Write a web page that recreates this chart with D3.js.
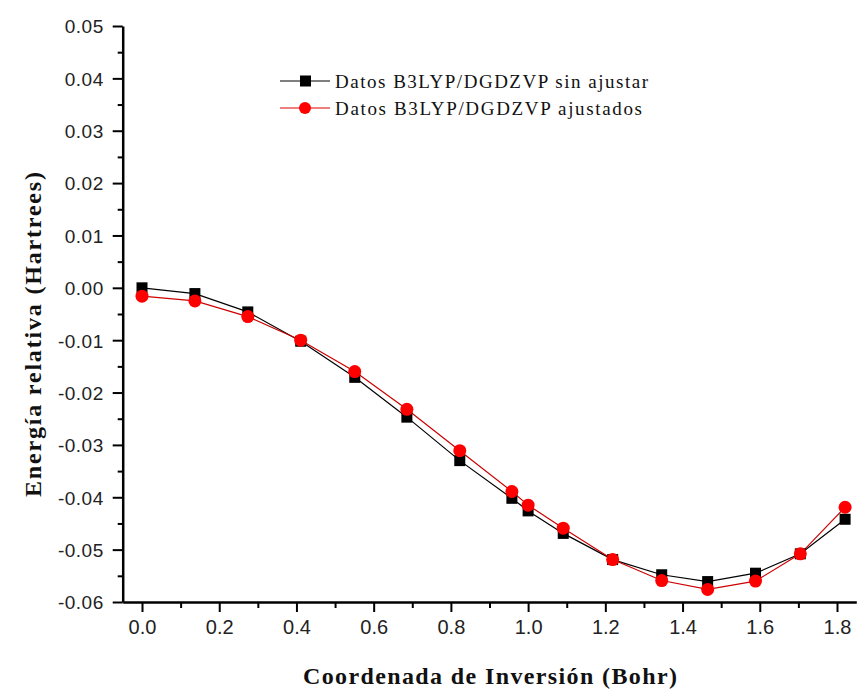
<!DOCTYPE html>
<html>
<head>
<meta charset="utf-8">
<script src="https://cdn.jsdelivr.net/npm/d3@7"></script>
<style>
  body { margin: 0; background: #fff; }
  svg { display: block; }
</style>
</head>
<body>
<div id="chart"></div>
<script>
var coord = [0, 0.137, 0.274, 0.411, 0.551, 0.686, 0.823, 0.958, 1.0, 1.091, 1.219, 1.346, 1.465, 1.589, 1.705, 1.821];
var sinAjustar = [0.0000, -0.0011, -0.0046, -0.0102, -0.0171, -0.0247, -0.0330, -0.0402, -0.0426, -0.0469, -0.0519, -0.0548, -0.0561, -0.0545, -0.0508, -0.0442];
var ajustados = [-0.0016, -0.0025, -0.0055, -0.0100, -0.0160, -0.0232, -0.0311, -0.0389, -0.0415, -0.0459, -0.0519, -0.0559, -0.0576, -0.0560, -0.0508, -0.0419];
var xTicks = [0, 0.2, 0.4, 0.6, 0.8, 1.0, 1.2, 1.4, 1.6, 1.8];
var yTicks = [0.05, 0.04, 0.03, 0.02, 0.01, 0, -0.01, -0.02, -0.03, -0.04, -0.05, -0.06];
var series = ["Datos B3LYP/DGDZVP sin ajustar", "Datos B3LYP/DGDZVP ajustados"];

var w = 857, h = 690;
var svg = d3.select("#chart").append("svg")
  .attr("width", w)
  .attr("height", h);

var x = d3.scaleLinear().domain([-0.05, 1.85]).range([122.7, 856.3]);
var y = d3.scaleLinear().domain([-0.06, 0.05]).range([602, 26]);

// plain hyphen like the original, not the unicode minus
var fmtY = function(d) { return d3.format(".2f")(d).replace("\u2212", "-"); };

// minor ticks
var xMinor = d3.range(-0.0, 1.85, 0.1).filter(function(d) { return Math.round(d * 10) % 2 == 1; });
var yMinor = d3.range(-0.055, 0.05, 0.01);

svg.append("g")
  .attr("transform", "translate(0,602)")
  .call(d3.axisBottom(x).tickValues(xMinor).tickSize(6).tickSizeOuter(0).tickFormat(""))
  .call(function(g) { g.select(".domain").remove(); });

svg.append("g")
  .attr("transform", "translate(122.7,0)")
  .call(d3.axisLeft(y).tickValues(yMinor).tickSize(5).tickSizeOuter(0).tickFormat(""))
  .call(function(g) { g.select(".domain").remove(); });

var xAxis = svg.append("g")
  .attr("transform", "translate(0,602)")
  .call(d3.axisBottom(x).tickValues(xTicks).tickSize(10).tickSizeOuter(0).tickPadding(8).tickFormat(d3.format(".1f")));

var yAxis = svg.append("g")
  .attr("transform", "translate(122.7,0)")
  .call(d3.axisLeft(y).tickValues(yTicks).tickSize(10).tickSizeOuter(0).tickPadding(9).tickFormat(fmtY));

svg.selectAll(".tick line").attr("stroke", "#000").attr("stroke-width", 2);
svg.selectAll(".domain").attr("stroke", "#000").attr("stroke-width", 2.5);

xAxis.selectAll("text")
  .attr("font-family", "'Liberation Sans', Arial, sans-serif")
  .attr("font-size", "20px")
  .attr("fill", "#222");

yAxis.selectAll("text")
  .attr("font-family", "'Liberation Sans', Arial, sans-serif")
  .attr("font-size", "19px")
  .attr("letter-spacing", "0.5px")
  .attr("dy", "0.36em")
  .attr("fill", "#222");

// lines
var line = function(vals) {
  return d3.line()
    .x(function(d, i) { return x(coord[i]); })
    .y(function(d) { return y(d); })(vals);
};

svg.append("path")
  .attr("d", line(sinAjustar))
  .attr("fill", "none")
  .attr("stroke", "#000")
  .attr("stroke-width", 1.2);

svg.append("path")
  .attr("d", line(ajustados))
  .attr("fill", "none")
  .attr("stroke", "#cc0000")
  .attr("stroke-width", 1.2);

svg.selectAll("rect.sq")
  .data(sinAjustar)
  .enter()
  .append("rect")
  .attr("class", "sq")
  .attr("x", function(d, i) { return x(coord[i]) - 5.5; })
  .attr("y", function(d) { return y(d) - 5.5; })
  .attr("width", 11)
  .attr("height", 11)
  .attr("fill", "#000");

svg.selectAll("circle.dot")
  .data(ajustados)
  .enter()
  .append("circle")
  .attr("class", "dot")
  .attr("cx", function(d, i) { return x(coord[i]); })
  .attr("cy", function(d) { return y(d); })
  .attr("r", 6.5)
  .attr("fill", "#ff0000");

// legend
var leg = svg.append("g");
var legY = [81, 108];
var legLen = [313, 307];
var legCol = ["#000", "#e00000"];

leg.selectAll("line")
  .data(series)
  .enter()
  .append("line")
  .attr("x1", 280).attr("x2", 330)
  .attr("y1", function(d, i) { return legY[i]; })
  .attr("y2", function(d, i) { return legY[i]; })
  .attr("stroke", function(d, i) { return legCol[i]; })
  .attr("stroke-width", 1.2);

leg.append("rect")
  .attr("x", 300).attr("y", legY[0] - 5.5)
  .attr("width", 11).attr("height", 11)
  .attr("fill", "#000");

leg.append("circle")
  .attr("cx", 305).attr("cy", legY[1])
  .attr("r", 6)
  .attr("fill", "#ff0000");

leg.selectAll("text")
  .data(series)
  .enter()
  .append("text")
  .text(function(d) { return d; })
  .attr("x", 335)
  .attr("y", function(d, i) { return legY[i]; })
  .attr("dy", "0.35em")
  .attr("textLength", function(d, i) { return legLen[i]; })
  .attr("lengthAdjust", "spacing")
  .attr("font-family", "'Liberation Serif', 'Times New Roman', serif")
  .attr("font-size", "19px")
  .attr("fill", "#111");

// axis titles
svg.append("text")
  .text("Coordenada de Inversión (Bohr)")
  .attr("x", 303)
  .attr("y", 684)
  .attr("textLength", 374)
  .attr("lengthAdjust", "spacing")
  .attr("font-family", "'Liberation Serif', 'Times New Roman', serif")
  .attr("font-weight", "bold")
  .attr("font-size", "24px")
  .attr("fill", "#111");

svg.append("text")
  .text("Energía relativa (Hartrees)")
  .attr("transform", "translate(41,497) rotate(-90)")
  .attr("textLength", 325)
  .attr("lengthAdjust", "spacing")
  .attr("font-family", "'Liberation Serif', 'Times New Roman', serif")
  .attr("font-weight", "bold")
  .attr("font-size", "24px")
  .attr("fill", "#111");
</script>
</body>
</html>
